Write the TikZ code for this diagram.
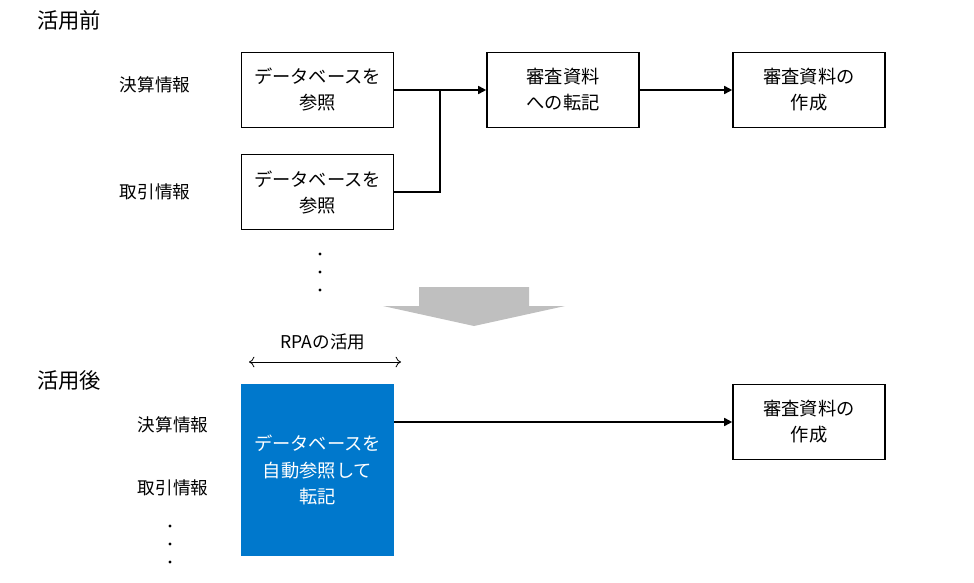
\documentclass[tikz,border=0pt]{standalone}
\usepackage{fontspec}
\setmainfont{Noto Sans CJK JP}
\usetikzlibrary{arrows.meta}
\definecolor{rpablue}{RGB}{0,120,204}
\definecolor{arrowgray}{RGB}{191,191,191}
\begin{document}
\begin{tikzpicture}[x=0.75pt,y=-0.75pt,
  box/.style={draw=black,line width=1.2pt,minimum width=114pt,minimum height=56pt,align=center,font=\fontsize{13.7pt}{19.5pt}\selectfont,inner sep=0pt},
  lbl/.style={font=\fontsize{13.2pt}{15pt}\selectfont,inner sep=0pt},
  ttl/.style={font=\fontsize{16pt}{18pt}\selectfont,inner sep=0pt,anchor=west},
  conn/.style={line width=1.2pt,-{Triangle[length=6pt,width=6pt]}},
  dot/.style={circle,fill=black,inner sep=0pt,minimum size=2.6pt}]
\useasboundingbox (0,0) rectangle (974,582);
% before
\node[ttl] (t1) at (37,20) {活用前};
\node[lbl] (l1) at (155,85) {決算情報};
\node[lbl] (l2) at (155,192) {取引情報};
\node[box] (a1) at (317.5,90) {データベースを\\参照};
\node[box] (a2) at (317.5,192) {データベースを\\参照};
\node[box] (b) at (563,90) {審査資料\\への転記};
\node[box] (c) at (809,90) {審査資料の\\作成};
\coordinate (j) at (440,90);
\draw[conn] (a1) -- (b);
\draw[line width=1.2pt] (a2.east) -| (j);
\draw[conn] (b) -- (c);
\node[dot] (d1) at (320,254) {};
\node[dot] (d2) at (320,272) {};
\node[dot] (d3) at (320,290) {};
% big arrow
\fill[arrowgray] (419,287) -- (529,287) -- (529,306) -- (565,306) -- (474,326) -- (383,306) -- (419,306) -- cycle;
% after
\node[font=\fontsize{13.2pt}{15pt}\selectfont,inner sep=0pt] (rpa) at (323,342) {RPAの活用};
\coordinate (r1) at (249,362);
\coordinate (r2) at (401,362);
\draw[line width=0.6pt,{To[length=4pt,width=8pt]}-{To[length=4pt,width=8pt]}] (r1) -- (r2);
\node[ttl] (t2) at (37,380) {活用後};
\node[lbl] (l3) at (173,425) {決算情報};
\node[lbl] (l4) at (173,488) {取引情報};
\node[fill=rpablue,text=white,minimum width=114.5pt,minimum height=129pt,align=center,inner sep=0pt,font=\fontsize{13.7pt}{20pt}\selectfont] (blue) at (317.5,470) {データベースを\\自動参照して\\転記};
\node[box] (c2) at (809,422) {審査資料の\\作成};
\draw[conn] (blue.east |- c2) -- (c2);
\node[dot] (d4) at (170,526) {};
\node[dot] (d5) at (170,544) {};
\node[dot] (d6) at (170,562) {};
\end{tikzpicture}
\end{document}
